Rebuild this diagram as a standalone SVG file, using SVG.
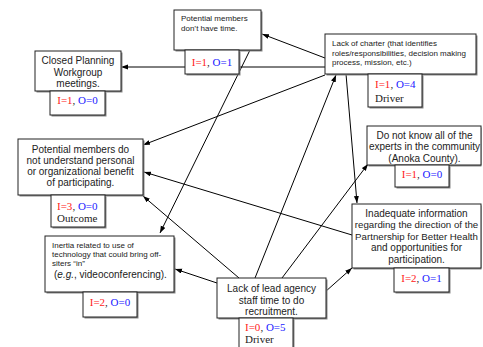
<svg xmlns="http://www.w3.org/2000/svg" width="483" height="347" viewBox="0 0 483 347">
<style>
.box{fill:#fff;stroke:#222;stroke-width:1}
.sh{fill:#888}
.t{font-family:"Liberation Sans",Arial,sans-serif;font-size:10px;fill:#222;text-anchor:middle}
.tl{font-family:"Liberation Sans",Arial,sans-serif;font-size:10px;fill:#222;text-anchor:start}
.ts{font-family:"Liberation Sans",Arial,sans-serif;font-size:8px;fill:#222}
.io{font-family:"Liberation Serif","Times New Roman",serif;font-size:11px;fill:#222}
.ioc{font-family:"Liberation Serif","Times New Roman",serif;font-size:11px;fill:#222;text-anchor:middle}
.r{fill:#ff2020}
.b{fill:#2020ff}
.c line{stroke:#000;stroke-width:1;marker-end:url(#ah)}
</style>
<defs>
<marker id="ah" markerUnits="userSpaceOnUse" markerWidth="8" markerHeight="6" refX="7" refY="2.5" orient="auto">
<path d="M0,0 L7,2.5 L0,5 z" fill="#000"/>
</marker>
</defs>
<rect width="483" height="347" fill="#fff"/>
<g id="connectors" class="c">
<line x1="325" y1="67" x2="121" y2="67"/>
<line x1="325" y1="58" x2="262" y2="34"/>
<line x1="325" y1="75" x2="143" y2="145"/>
<line x1="346" y1="74" x2="357" y2="203"/>
<line x1="250" y1="50" x2="160" y2="233"/>
<line x1="239" y1="278" x2="143" y2="196"/>
<line x1="217" y1="283" x2="175" y2="269"/>
<line x1="255" y1="278" x2="336" y2="75"/>
<line x1="282" y1="278" x2="368" y2="164"/>
<line x1="325" y1="292" x2="352" y2="268"/>
<line x1="352" y1="235" x2="144" y2="172"/>
</g>
<g id="pm_time">
<rect class="sh" x="175.5" y="11.5" width="87" height="40"/>
<rect class="box" x="174" y="10" width="87" height="40"/>
<text class="ts" x="181" y="21">Potential members</text>
<text class="ts" x="181" y="31">don’t have time.</text>
<rect class="sh" x="186.5" y="51.5" width="54" height="24"/>
<rect class="box" x="185" y="50" width="54" height="24"/>
<text class="ioc" x="212" y="66"><tspan class="r">I=1</tspan>, <tspan class="b">O=1</tspan></text>
</g>
<g id="closed_planning">
<rect class="sh" x="36.5" y="52.5" width="86" height="40"/>
<rect class="box" x="35" y="51" width="86" height="40"/>
<text class="t" x="78" y="63.5">Closed Planning</text>
<text class="t" x="78" y="75.5">Workgroup</text>
<text class="t" x="78" y="86.5">meetings.</text>
<rect class="sh" x="51.5" y="92.5" width="55" height="24"/>
<rect class="box" x="50" y="91" width="55" height="24"/>
<text class="ioc" x="77.5" y="104"><tspan class="r">I=1</tspan>, <tspan class="b">O=0</tspan></text>
</g>
<g id="charter">
<rect class="sh" x="326.5" y="35.5" width="151" height="40"/>
<rect class="box" x="325" y="34" width="151" height="40"/>
<text class="ts" x="332" y="46">Lack of charter (that identifies</text>
<text class="ts" x="332" y="55.5">roles/responsibilities, decision making</text>
<text class="ts" x="332" y="65">process, mission, etc.)</text>
<rect class="sh" x="369.5" y="75.5" width="54" height="33"/>
<rect class="box" x="368" y="74" width="54" height="33"/>
<text class="io" x="375" y="88"><tspan class="r">I=1</tspan>, <tspan class="b">O=4</tspan></text>
<text class="io" x="375" y="102">Driver</text>
</g>
<g id="not_understand">
<rect class="sh" x="19.5" y="140.5" width="125" height="56"/>
<rect class="box" x="18" y="139" width="125" height="56"/>
<text class="t" x="80.5" y="152.5">Potential members do</text>
<text class="t" x="80.5" y="163.8">not understand personal</text>
<text class="t" x="80.5" y="175.1">or organizational benefit</text>
<text class="t" x="80.5" y="186.4">of participating.</text>
<rect class="sh" x="52.5" y="196.5" width="54" height="32"/>
<rect class="box" x="51" y="195" width="54" height="32"/>
<text class="io" x="57" y="210"><tspan class="r">I=3</tspan>, <tspan class="b">O=0</tspan></text>
<text class="io" x="57" y="222">Outcome</text>
</g>
<g id="do_not_know">
<rect class="sh" x="368.5" y="127.5" width="113" height="39"/>
<rect class="box" x="367" y="126" width="114" height="39"/>
<text class="t" x="424.5" y="138.5">Do not know all of the</text>
<text class="t" x="424.5" y="150">experts in the community</text>
<text class="t" x="424.5" y="161.5">(Anoka County).</text>
<rect class="sh" x="396.5" y="166.5" width="54" height="22"/>
<rect class="box" x="395" y="165" width="54" height="22"/>
<text class="ioc" x="422" y="177.5"><tspan class="r">I=1</tspan>, <tspan class="b">O=0</tspan></text>
</g>
<g id="inadequate">
<rect class="sh" x="353.5" y="205.5" width="128" height="64"/>
<rect class="box" x="352" y="204" width="129" height="64"/>
<text class="t" x="416.5" y="216.5">Inadequate information</text>
<text class="t" x="416.5" y="228" font-size="9.7" style="font-size:9.7px">regarding the direction of the</text>
<text class="t" x="416.5" y="239.5" style="font-size:9.7px">Partnership for Better Health</text>
<text class="t" x="416.5" y="251">and opportunities for</text>
<text class="t" x="416.5" y="262.5">participation.</text>
<rect class="sh" x="395.5" y="269.5" width="55" height="24"/>
<rect class="box" x="394" y="268" width="55" height="24"/>
<text class="ioc" x="421.5" y="282"><tspan class="r">I=2</tspan>, <tspan class="b">O=1</tspan></text>
</g>
<g id="inertia">
<rect class="sh" x="46.5" y="237.5" width="129" height="56"/>
<rect class="box" x="45" y="236" width="129" height="56"/>
<text class="ts" x="52" y="248">Inertia related to use of</text>
<text class="ts" x="52" y="257">technology that could bring off-</text>
<text class="ts" x="52" y="265.5">siters “in”</text>
<text class="tl" x="54" y="277.5">(<tspan font-style="italic">e.g.</tspan>, videoconferencing).</text>
<rect class="sh" x="84.5" y="293.5" width="54" height="25"/>
<rect class="box" x="83" y="292" width="54" height="25"/>
<text class="ioc" x="110" y="306"><tspan class="r">I=2</tspan>, <tspan class="b">O=0</tspan></text>
</g>
<g id="lead_agency">
<rect class="sh" x="218.5" y="279.5" width="109" height="40"/>
<rect class="box" x="217" y="278" width="109" height="40"/>
<text class="t" x="271.5" y="291.5">Lack of lead agency</text>
<text class="t" x="271.5" y="303.5">staff time to do</text>
<text class="t" x="271.5" y="314.5">recruitment.</text>
<rect class="sh" x="240.5" y="319.5" width="54" height="35"/>
<rect class="box" x="239" y="318" width="54" height="35"/>
<text class="io" x="245" y="331"><tspan class="r">I=0</tspan>, <tspan class="b">O=5</tspan></text>
<text class="io" x="245" y="343">Driver</text>
</g>
</svg>
